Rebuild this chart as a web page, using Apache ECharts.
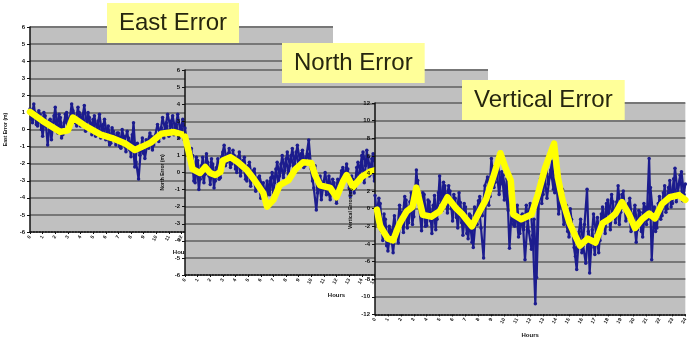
<!DOCTYPE html>
<html>
<head>
<meta charset="utf-8">
<title>GPS Error</title>
<script src="https://cdn.jsdelivr.net/npm/echarts@6/dist/echarts.min.js"></script>
<style>
html, body { margin: 0; padding: 0; background: #fff; }
#errorChart { width: 689px; height: 343px; }
</style>
</head>
<body>
<div id="errorChart"></div>
<script>
/*** GPS 误差图 ***/
var STEP = 0.2; //原始数据采样间隔(小时)
var hourLabels = ['0', '1', '2', '3', '4', '5', '6', '7', '8', '9', '10', '11', '12',
	'13', '14', '15', '16', '17', '18', '19', '20', '21', '22', '23', '24'];
var eastTicks = [-6, -5, -4, -3, -2, -1, 0, 1, 2, 3, 4, 5, 6];
var northTicks = [-6, -5, -4, -3, -2, -1, 0, 1, 2, 3, 4, 5, 6];
var vertTicks = [-12, -10, -8, -6, -4, -2, 0, 2, 4, 6, 8, 10, 12];

//原始误差 (蓝点), 偶数时刻 0, 0.2, 0.4 ...
var eastRaw = [1.2, 0.4, 1.0, 0.2, 0.9, -0.4, 0.8, -0.9, 0.6, 0.1, 1.3, -0.2, 0.7, -0.3, 0.9, 0.0,
	0.6, 1.1, 0.4, 1.3, 0.2, 0.9, -0.1, 1.0, 0.1, 0.6, -0.4, 0.5, -0.5, 0.3, -0.6, 0.2,
	-0.8, -0.1, -0.9, -0.2, -1.1, -0.4, -1.3, -0.5, -1.6, 0.4, -1.9, -2.9, -1.0, -1.4, -0.6, -1.1,
	-0.4, -0.9, -0.3, -0.7, 0.1, -0.5, 0.4, -0.4, 0.5, -0.3, 0.3, -0.5, 0.2, -0.6, 0.1];
var northRaw = [2.6, 1.5, 0.6, 1.0, -0.6, 0.7, -0.4, 0.9, -0.1, 0.6, -0.7, 0.5, -0.5, 0.8, -0.3, 1.2,
	0.4, 1.1, 0.3, 1.3, 0.2, 0.9, -0.2, 0.7, -0.4, 0.4, -0.8, 0.1, -1.1, -0.3, -1.5, -0.6,
	-1.9, -0.9, -0.3, -1.2, 0.2, -0.7, 0.5, -0.3, 0.8, -0.1, 1.0, 0.2, 1.2, 0.4, 1.1, 0.3,
	0.9, 1.9, 0.2, -0.9, -2.2, -0.4, -1.6, -0.5, -1.3, -0.2, -1.1, -0.6, -1.8, -0.8, 0.1, -0.5,
	0.5, -0.9, -0.2, -1.2, 0.3, -0.4, 1.0, -0.6, 1.3, -0.2, 0.8, -0.5, 0.6, 0.0];
var vertRaw = [1.5, -1.8, 0.6, -3.6, -1.2, -4.8, -2.4, -5.0, -2.0, -3.9, -0.4, -2.7, 1.0, -1.6, 1.8, -0.9,
	4.4, 0.5, -2.5, 1.6, -1.9, 0.8, -2.8, 1.5, -1.2, 3.7, -0.2, 2.6, -0.5, 2.0, -1.4, 1.2,
	-2.2, 0.7, -3.0, 0.2, -3.4, -0.8, -4.4, -1.0, 0.9, -2.2, -5.6, 2.0, 0.4, 5.7, 2.4, 4.6,
	1.6, 4.2, 1.0, 3.4, -4.5, 0.6, -2.0, 0.4, -2.8, -0.6, -5.8, -1.4, 0.6, -3.0, -10.8, 0.8,
	3.4, 1.6, 5.0, 2.8, 4.4, 2.2, 3.8, -0.6, 1.4, -1.8, 0.4, -3.2, -1.2, -4.4, -6.9, -2.6,
	-5.0, -1.8, 2.2, -7.3, -2.4, -5.2, -1.0, -3.6, 0.2, -2.8, 1.0, -2.4, 0.8, -1.6, 2.6, -0.4,
	2.0, -1.4, 0.6, -2.6, -0.8, -3.8, -0.2, -2.6, 0.6, -1.8, 5.7, -5.8, 0.2, -2.2, 1.4, -0.8,
	2.6, 0.0, 3.2, 0.6, 4.6, 1.8, 3.8, 0.9, 2.8];
//原始误差 (蓝点), 奇数时刻 0.1, 0.3, 0.5 ...
var eastRaw2 = [0.6, 1.5, 0.3, 1.1, 0.0, 1.0, 0.2, 0.5, -0.6, 0.8, 0.1, 0.9, -0.5, 0.4, 1.0, 0.3,
	1.5, 0.8, 0.2, 1.0, 0.5, 1.4, 0.3, 0.7, -0.3, 0.8, 0.0, 0.9, -0.2, 0.6, -0.3, -0.9,
	0.1, -0.6, -0.2, -1.0, 0.0, -0.7, -0.1, -1.2, -0.3, -2.2, -0.8, -1.5, -0.5, -1.7, -0.8, -0.2,
	-1.2, -0.4, 0.3, -0.3, 0.7, 0.0, 0.9, 0.2, 0.8, 0.0, 0.9, -0.1, 0.6, -0.2];
var northRaw2 = [1.8, 0.9, 1.4, -0.5, 0.9, -1.0, 0.4, -0.6, 1.1, -0.2, 0.8, -0.9, 0.3, -0.4, 0.9, 1.6,
	0.6, 1.4, 0.5, 1.0, 0.0, 1.2, 0.2, 0.9, -0.5, 0.6, -0.3, 0.2, -0.9, -0.2, -0.8, -1.6,
	-0.5, -1.3, 0.0, -0.6, 0.6, -0.2, 1.0, 0.1, 1.2, 0.4, 1.4, 0.5, 1.6, 0.7, 1.3, 0.4,
	1.1, 0.6, -0.5, 0.4, -1.2, -0.2, -1.0, 0.0, -0.9, -1.6, -0.4, -1.2, -0.4, -1.0, 0.3, -0.3,
	0.2, -1.4, -0.4, -0.9, 0.6, 0.1, 1.2, 0.4, 0.9, -0.1, 1.1, 0.2, 0.9];
var vertRaw2 = [-0.8, 1.2, -2.6, -0.6, -4.2, -2.0, -3.2, -0.8, -3.0, 0.4, -1.6, 1.4, -2.2, 0.8, -1.8, 1.4,
	3.2, 0.2, 1.8, -2.0, 1.0, -1.4, 0.4, -2.4, 1.8, 0.6, 3.0, 0.8, 2.6, 0.0, 1.6, -1.0,
	1.8, -1.6, 0.6, -2.8, -0.6, -3.8, 0.2, -1.8, 1.4, -0.8, 2.6, 3.6, 1.4, 4.8, 3.0, 5.2,
	2.8, 3.8, 1.8, -0.2, 2.4, -1.8, 0.0, -3.2, -0.8, -2.4, 0.4, -2.6, -4.6, -1.2, -7.8, 2.4,
	0.6, 4.0, 1.2, 3.6, 5.4, 1.8, 4.0, 0.2, 2.2, -0.8, -2.6, 0.0, -2.6, -5.4, -3.4, -1.2,
	-4.2, -6.2, -2.6, -4.4, -0.6, -2.8, -5.0, -0.6, -2.0, 0.6, -0.6, 1.6, -1.0, 0.8, -1.8, 1.6,
	0.2, -1.0, 1.2, -1.6, 0.4, -2.4, -0.4, -3.2, 0.2, -1.2, 2.4, -0.6, -2.6, 0.6, -1.2, 1.8,
	-0.4, 2.4, 0.2, 3.4, 0.8, 2.8, 4.2, 1.6];

//平滑后误差 (黄线) [小时, 误差]
var eastSmooth = [[0, 1.03], [1.0, 0.5], [2.4, -0.14], [3.0, -0.05], [3.4, 0.7], [4.4, 0.2], [5.6, -0.3],
	[6.5, -0.5], [7.5, -0.8], [8.3, -1.2], [8.9, -1.0], [9.6, -0.75], [10.4, -0.25], [11.4, -0.15],
	[12.1, -0.3], [12.4, -0.4]];
var northSmooth = [[0, 2.1], [0.3, 1.2], [0.6, 0.2], [1.2, -0.03], [1.6, 0.32], [2.0, -0.03], [2.4, -0.15],
	[2.8, 0.03], [3.0, 0.7], [3.6, 0.9], [4.2, 0.6], [4.9, 0.15], [5.5, -0.44], [6.2, -1.2], [6.5, -2.0],
	[7.0, -1.6], [7.5, -0.75], [8.2, -0.45], [8.7, 0.15], [9.35, 0.6], [10.0, 0.55], [10.3, -0.15],
	[10.7, -0.75], [11.5, -0.9], [12.0, -1.45], [12.5, -0.55], [12.8, -0.15], [13.3, -0.85], [14.0, -0.25],
	[14.65, 0.05], [15.4, 0.2]];
var vertSmooth = [[0.15, -0.1], [0.4, -2.0], [1.0, -3.4], [1.4, -3.6], [1.9, -1.7], [2.45, -0.3], [2.9, 0.2],
	[3.2, 2.4], [3.7, -0.7], [4.35, -0.9], [5.0, -0.3], [5.6, 1.3], [6.3, 0], [6.7, -0.55], [7.5, -2.0],
	[8.0, -0.55], [8.6, 1.1], [9.2, 3.85], [9.7, 6.3], [10.1, 4.6], [10.5, 3.2], [10.7, -0.65], [11.3, -1.2],
	[12.1, -0.65], [12.6, 1.65], [13.15, 4.6], [13.85, 7.4], [14.15, 3.5], [14.5, 1.0], [15.05, -1.65],
	[15.5, -3.1], [15.85, -4.2], [16.45, -3.4], [17.05, -3.85], [17.6, -1.65], [18.1, -1.2], [18.6, -0.55],
	[19.1, 0.75], [19.65, -0.65], [20.1, -2.2], [20.65, -1.2], [21.2, -0.55], [21.65, -1.1], [22.2, 0.55],
	[22.8, 1.3], [23.5, 1.55], [24, 1.0]];

var errorChart = {
	init: function() {
		this.chart();
	},
	//蓝点数组转换为 [小时, 误差]
	toPairs: function(arr, offset) {
		return arr.map(function(v, i) {
			return [Math.round((offset + i * STEP) * 10) / 10, v];
		});
	},
	//蓝点系列
	rawSeries: function(i, data) {
		return {
			type: 'line',
			xAxisIndex: i,
			yAxisIndex: i,
			zlevel: i,
			z: 2,
			data: data,
			symbol: 'circle',
			symbolSize: 3.5,
			showSymbol: true,
			itemStyle: { color: '#1c1c8e' },
			lineStyle: { color: '#1c1c8e', width: 2.2 },
			silent: true
		};
	},
	chart: function() {
		var self = this;
		var panels = [{
			title: 'East Error', titleLeft: 107, titleTop: 3,
			grid: { left: 30, top: 27, width: 303, height: 205 },
			ticks: eastTicks, raw: eastRaw, raw2: eastRaw2, smooth: eastSmooth,
			yName: 'East Error (m)', yGap: 22
		}, {
			title: 'North Error', titleLeft: 282, titleTop: 43,
			grid: { left: 185, top: 70, width: 303, height: 205 },
			ticks: northTicks, raw: northRaw, raw2: northRaw2, smooth: northSmooth,
			yName: 'North Error (m)', yGap: 20
		}, {
			title: 'Vertical Error', titleLeft: 462, titleTop: 80,
			grid: { left: 375, top: 103, width: 314, height: 218 },
			ticks: vertTicks, raw: vertRaw, raw2: vertRaw2, smooth: vertSmooth,
			yName: 'Vertical Error (m)', yGap: 22
		}];
		var titles = [], grids = [], xAxes = [], yAxes = [], series = [];
		panels.forEach(function(p, i) {
			titles.push({
				text: p.title,
				left: p.titleLeft,
				top: p.titleTop,
				backgroundColor: '#ffff99',
				padding: [8, 12],
				zlevel: i,
				z: 10,
				textStyle: {
					fontFamily: 'Liberation Sans, Arial',
					fontSize: 24,
					fontWeight: 'normal',
					lineHeight: 24,
					color: '#26260f'
				}
			});
			grids.push({
				left: p.grid.left, top: p.grid.top, width: p.grid.width, height: p.grid.height,
				show: true,
				backgroundColor: '#c0c0c0',
				borderWidth: 0,
				zlevel: i
			});
			xAxes.push({
				type: 'value',
				gridIndex: i,
				min: 0,
				max: hourLabels.length - 1,
				interval: 1,
				zlevel: i,
				name: 'Hours',
				nameLocation: 'middle',
				nameGap: 14,
				nameTextStyle: { fontSize: 6, fontWeight: 'bold', color: '#111' },
				axisLine: { onZero: false, lineStyle: { color: '#111', type: 'dotted', width: 1.5 } },
				axisTick: { show: true, length: 2, lineStyle: { color: '#111' } },
				splitLine: { show: false },
				axisLabel: {
					fontSize: 5, rotate: 60, margin: 4, color: '#111', fontWeight: 'bold',
					formatter: function(v) { return hourLabels[v]; }
				}
			});
			yAxes.push({
				type: 'value',
				gridIndex: i,
				min: p.ticks[0],
				max: p.ticks[p.ticks.length - 1],
				interval: p.ticks[1] - p.ticks[0],
				zlevel: i,
				name: p.yName,
				nameLocation: 'middle',
				nameGap: p.yGap,
				nameTextStyle: { fontSize: 5, fontWeight: 'bold', color: '#111' },
				axisLine: { show: true, onZero: false, lineStyle: { color: '#111', width: 1.5 } },
				axisTick: { show: true, length: 3, lineStyle: { color: '#111' } },
				axisLabel: { fontSize: 6, margin: 5, color: '#111', fontWeight: 'bold' },
				splitLine: { show: true, lineStyle: { color: '#777777', width: 2 } }
			});
			series.push(self.rawSeries(i, self.toPairs(p.raw, 0)));
			series.push(self.rawSeries(i, self.toPairs(p.raw2, 0.1)));
			series.push({
				type: 'line',
				xAxisIndex: i,
				yAxisIndex: i,
				zlevel: i,
				z: 3,
				data: p.smooth,
				symbol: 'none',
				lineStyle: { color: '#ffff00', width: 6.5, cap: 'round', join: 'round' },
				silent: true
			});
		});
		var myChart = echarts.init(document.getElementById('errorChart'));
		var option = {
			animation: false,
			title: titles,
			grid: grids,
			xAxis: xAxes,
			yAxis: yAxes,
			series: series
		};
		myChart.setOption(option, true);
	}
};
//初始化
window.onload = function() {
	errorChart.init();
};
</script>
</body>
</html>
